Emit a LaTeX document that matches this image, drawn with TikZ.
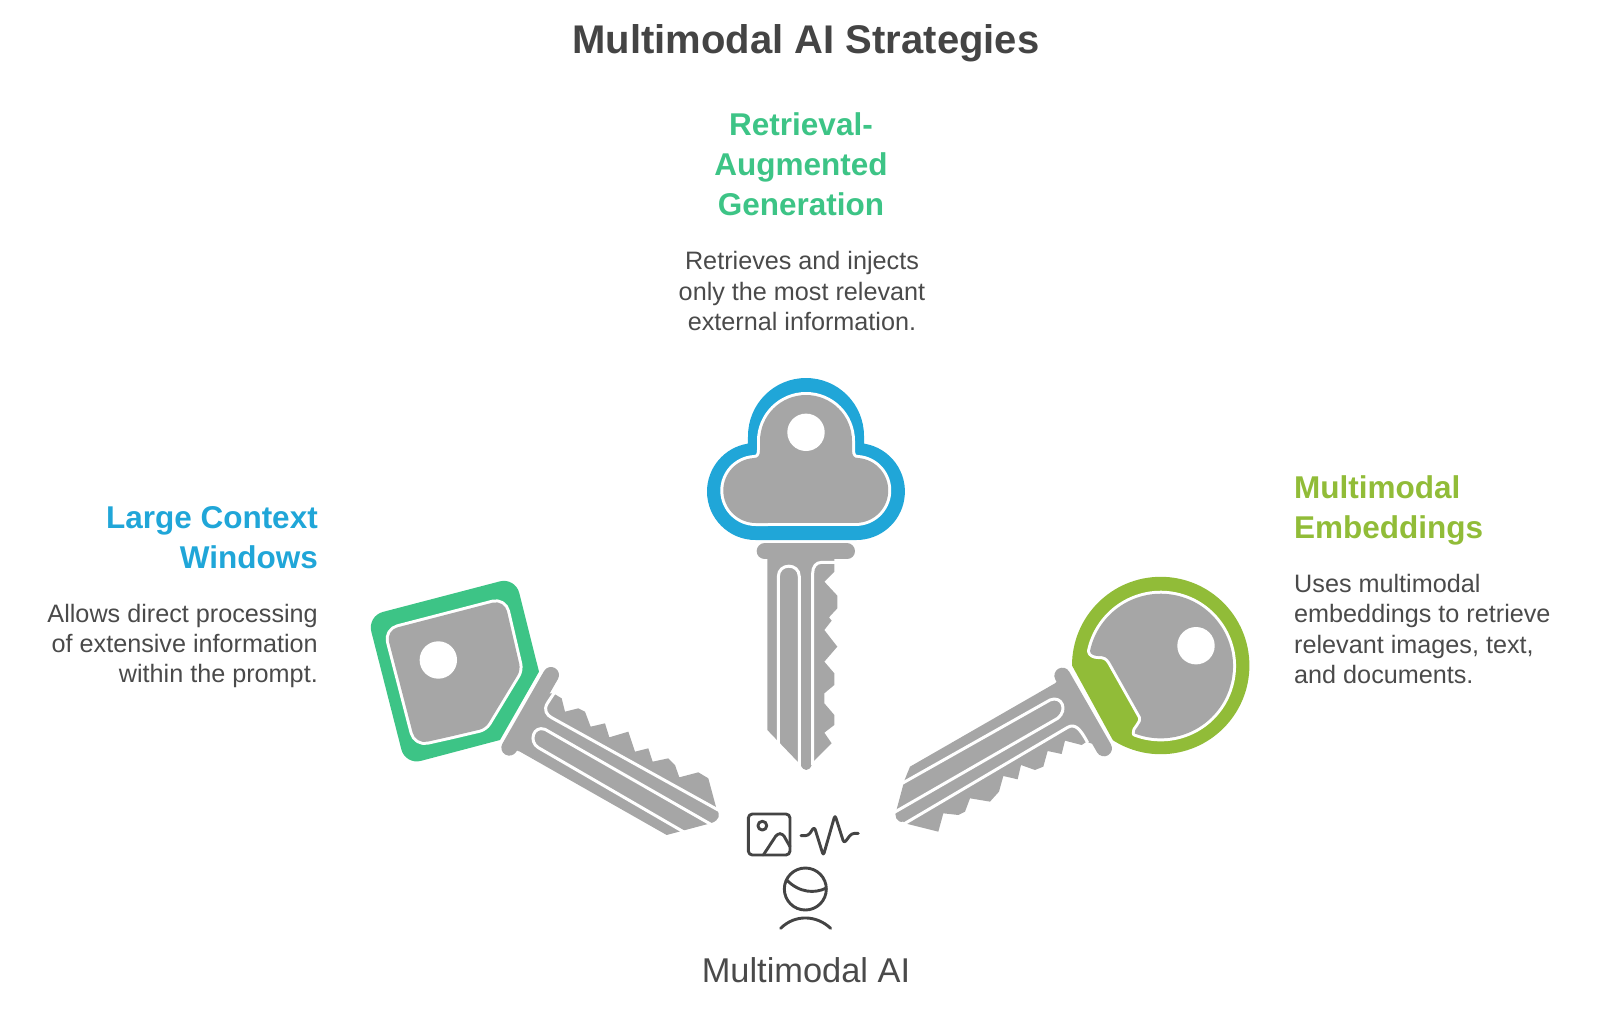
\documentclass[tikz,border=0pt]{standalone}
\usepackage{fontspec}
\setmainfont{Liberation Sans}
\definecolor{keygrey}{HTML}{A6A6A6}
\definecolor{inkgrey}{HTML}{444444}
\definecolor{textgrey}{HTML}{4A4A4A}
\definecolor{keyblue}{HTML}{20A6D8}
\definecolor{keygreen}{HTML}{3DC486}
\definecolor{keylime}{HTML}{91BC38}

\begin{document}
\begin{tikzpicture}[x=1pt,y=-1pt,line join=round]
    \tikzstyle{head}=[fill=keygrey,preaction={draw=white,line width=6pt}]
    \tikzstyle{groove}=[draw=white,line width=3pt]
    \tikzstyle{bow}=[draw=keygrey,line width=16pt,line cap=round]
    \tikzstyle{icon}=[draw=inkgrey,line width=2.9pt,line cap=round]
    \tikzstyle{title}=[inner sep=0pt,text=inkgrey,font=\fontsize{40}{47}\selectfont\bfseries]
    \tikzstyle{heading}=[inner sep=0pt,font=\fontsize{31.5}{40}\selectfont\bfseries]
    \tikzstyle{descr}=[inner sep=0pt,text=textgrey,font=\fontsize{25.2}{30.3}\selectfont]

    \useasboundingbox (0,0) rectangle (1600,1015);

    % Draw the texts
    \node[title] (title) at (806,43) {Multimodal AI Strategies};
    \node[heading,text=keygreen,align=center] (rag) at (801,164.5) {Retrieval-\\Augmented\\Generation};
    \node[descr,align=center] (ragtext) at (802,291) {Retrieves and injects\\only the most relevant\\external information.};
    \node[heading,text=keyblue,align=right,anchor=east] (lcw) at (318,538) {Large Context\\Windows};
    \node[descr,align=right,anchor=east] (lcwtext) at (318,646) {Allows direct processing\\of extensive information\\within the prompt.};
    \node[heading,text=keylime,align=left,anchor=west] (mme) at (1294,510.5) {Multimodal\\Embeddings};
    \node[descr,align=left,anchor=west] (mmetext) at (1294,629) {Uses multimodal\\embeddings to retrieve\\relevant images, text,\\and documents.};
    \node[inner sep=0pt,text=textgrey,font=\fontsize{34.4}{40}\selectfont] (mmai) at (806,970) {Multimodal AI};

    % Draw the middle key
    \fill[keyblue] (748,436) arc[start angle=180,end angle=0,radius=58pt] -- (864,443.6)
        arc[start angle=81,end angle=-90,radius=48.5pt] -- (755.5,540)
        arc[start angle=270,end angle=99,radius=48.5pt] -- cycle;
    \path[head] (760,441) arc[start angle=180,end angle=0,radius=46pt] -- (852,450)
        .. controls (852,456) and (854,458) .. (858,458)
        arc[start angle=86,end angle=-90,radius=32.5pt] -- (755.8,523)
        arc[start angle=270,end angle=94,radius=32.5pt]
        .. controls (758,458) and (760,456) .. (760,450) -- cycle;
    \fill[white] (806,432.3) circle[radius=18.7pt];
    \begin{scope}[shift={(730,530)},x=0.3333pt,y=-0.3333pt]
        \draw[bow] (104,64) -- (351,64);
        \fill[keygrey] (112,85) -- (112,600) -- (205,697) -- (212,705)
            .. controls (220,725) and (238,725) .. (245,705)
            -- (250,695) -- (305,640) -- (283,608) -- (313,585) -- (313,555) -- (283,520)
            -- (283,490) -- (313,465) -- (313,430) -- (283,395) -- (322,350) -- (283,300)
            -- (305,272) -- (297,262) -- (322,235) -- (322,197) -- (283,155) -- (313,125)
            -- (313,85) -- cycle;
        \draw[groove] (145,650) -- (145,140) .. controls (145,98) and (208,98) .. (208,140) -- (208,725);
        \draw[groove] (248,705) -- (248,130) .. controls (248,110) and (258,97) .. (275,97) -- (320,97);
    \end{scope}

    % Draw the left key
    \begin{scope}[shift={(350,560)},x=0.3333pt,y=-0.3333pt]
        \fill[keygreen] (567,335) -- (450,540) [rounded corners=16pt] -- (166,615) -- (52,168)
            -- (496,52) [sharp corners] -- cycle;
        \path[head] (300,530) [rounded corners=12pt] -- (197,553) -- (108,211) -- (463,119)
            [rounded corners=6pt] -- (512,330) -- (406,505) -- cycle;
        \fill[white] (265,300) circle[radius=18.7pt];
    \end{scope}
    \begin{scope}[shift={(490,650)},x=0.3333pt,y=-0.3333pt]
        \draw[bow] (183,75) -- (58,293);
        \fill[keygrey] (170,130) -- (190,130) -- (215,145) -- (225,185) -- (265,175) -- (285,185)
            -- (302,230) -- (345,220) -- (358,262) -- (415,245) -- (435,305) -- (475,295)
            -- (488,335) -- (535,325) -- (555,345) -- (568,382) -- (625,367) -- (655,385)
            -- (680,478) .. controls (692,495) and (688,510) .. (665,519)
            -- (530,555) -- (90,305) -- (58,293) -- cycle;
        \draw[groove] (195,125) -- (172,160) .. controls (160,180) and (170,195) .. (185,203) -- (690,483);
        \draw[groove] (668,526) -- (165,238) .. controls (130,225) and (115,275) .. (145,293) -- (585,548);
    \end{scope}

    % Draw the right key
    \fill[keylime] (1072,665.5) arc[start angle=180,end angle=-122.6,radius=88.7pt] -- cycle;
    \path[head] (1090,651) arc[start angle=168,end angle=-111,radius=72.3pt]
        .. controls (1133,729) and (1143,724) .. (1141,717) -- (1110,662)
        .. controls (1107,657) and (1104,656) .. (1098,656)
        .. controls (1094,656) and (1090,654) .. cycle;
    \fill[white] (1196,645.7) circle[radius=18.7pt];
    \begin{scope}[shift={(865,650)},x=0.3333pt,y=-0.3333pt]
        \draw[bow] (592,77) -- (717,295);
        \fill[keygrey] (592,77) -- (570,100) -- (135,350) -- (118,392) -- (95,478)
            .. controls (85,495) and (95,520) .. (115,515)
            -- (120,520) -- (220,545) -- (235,490) -- (280,495) -- (300,485) -- (315,445)
            -- (375,455) -- (402,425) -- (415,378) -- (458,388) -- (468,345) -- (510,360)
            -- (535,350) -- (548,303) -- (590,312) -- (600,272) -- (650,285) -- (665,275)
            -- (717,295) -- cycle;
        \draw[groove] (108,402) -- (555,150) .. controls (590,135) and (610,180) .. (578,205) -- (88,487);
        \draw[groove] (115,523) -- (608,232) .. controls (630,220) and (645,235) .. (668,278);
    \end{scope}

    % Draw the image and signal icons
    \begin{scope}[shift={(720,785)},x=0.3333pt,y=-0.3333pt]
        \draw[icon,rounded corners=4pt] (85,87) rectangle (210,210);
        \draw[icon] (127,122) circle[radius=4.4pt];
        \draw[icon,rounded corners=3pt] (130,210) -- (172,146) -- (188,146) -- (210,185);
        \draw[icon,rounded corners=3pt] (243,152) -- (265,152) -- (283,125) -- (310,212)
            -- (345,90) -- (372,175) -- (395,145) -- (415,145);
    \end{scope}

    % Draw the person icon
    \begin{scope}[shift={(760,860)},x=0.3333pt,y=-0.3333pt]
        \draw[icon] (136,87) circle[radius=21pt];
        \draw[icon] (80,60) .. controls (120,100) and (165,100) .. (197,85);
        \draw[icon] (62,205) .. controls (105,162) and (170,165) .. (212,205);
    \end{scope}
\end{tikzpicture}
\end{document}
